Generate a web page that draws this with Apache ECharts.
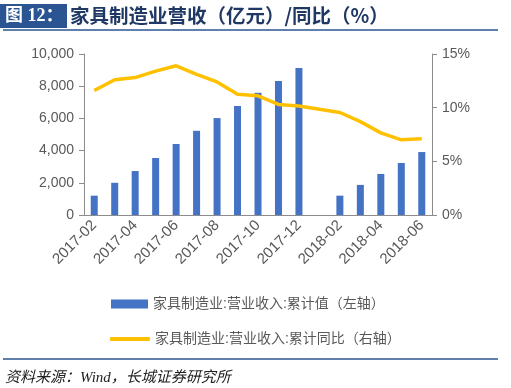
<!DOCTYPE html>
<html><head><meta charset="utf-8">
<script src="https://cdn.jsdelivr.net/npm/echarts@6/dist/echarts.min.js"></script>
<style>html,body{margin:0;padding:0;background:#fff}#c{width:511px;height:388px}</style>
</head><body><div id="c"></div>
<script>
const categories = ['2017-02','2017-03','2017-04','2017-05','2017-06','2017-07','2017-08','2017-09','2017-10','2017-11','2017-12','2018-01','2018-02','2018-03','2018-04','2018-05','2018-06'];
const revenue = [1200,2000,2730,3540,4410,5230,6020,6770,7590,8320,9130,null,1200,1870,2550,3230,3910];
const yoy = [11.6,12.6,12.8,13.4,13.9,13.1,12.4,11.25,11.1,10.3,10.15,null,9.55,8.7,7.65,7.0,7.1];
const leftTicks = [0,2000,4000,6000,8000,10000];
const rightTicks = [0,5,10,15];
const barName = '家具制造业:营业收入:累计值（左轴）';
const lineName = '家具制造业:营业收入:累计同比（右轴）';
const titleText = '家具制造业营收（亿元）/同比（%）';
const figLabel = '图 12：';
const sourceText = '资料来源：Wind，长城证券研究所';

const chart = echarts.init(document.getElementById('c'), null, {renderer:'canvas'});
const axisColor = '#8c8c8c';
const labelColor = '#595959';
const font = 'Arial, "Liberation Sans", "Noto Sans CJK SC", sans-serif';
chart.setOption({
  animation:false,
  textStyle:{fontFamily:font},
  grid:{left:84,right:79,top:54,bottom:173,containLabel:false},
  legend:[
    {data:[{name:barName,icon:'rect'}],left:106,top:292,itemWidth:37,itemHeight:9,itemGap:5,
     textStyle:{color:labelColor,fontSize:14,fontFamily:font}},
    {data:[{name:lineName,icon:'roundRect'}],left:105,top:327,itemWidth:40,itemHeight:4,
     textStyle:{color:labelColor,fontSize:14,fontFamily:font}}
  ],
  xAxis:{type:'category',data:categories,boundaryGap:true,
    axisLine:{lineStyle:{color:axisColor}},
    axisTick:{interval:1,length:5,lineStyle:{color:axisColor}},
    axisLabel:{interval:1,rotate:45,color:labelColor,fontSize:15,margin:8}},
  yAxis:[
    {type:'value',min:0,max:10000,interval:2000,position:'left',
     axisLine:{show:true,lineStyle:{color:axisColor}},
     axisTick:{show:true,length:5,lineStyle:{color:axisColor}},
     splitLine:{show:false},
     axisLabel:{color:labelColor,fontSize:14,margin:10,formatter:v=>v.toLocaleString('en-US')}},
    {type:'value',min:0,max:15,interval:5,position:'right',
     axisLine:{show:true,lineStyle:{color:axisColor}},
     axisTick:{show:true,length:5,lineStyle:{color:axisColor}},
     splitLine:{show:false},
     axisLabel:{color:labelColor,fontSize:14,margin:10,formatter:v=>v+'%'}}
  ],
  series:[
    {name:barName,type:'bar',data:revenue,barWidth:7,itemStyle:{color:'#4472C4'},yAxisIndex:0},
    {name:lineName,type:'line',data:yoy,yAxisIndex:1,connectNulls:true,symbol:'none',
     lineStyle:{color:'#FFC000',width:3.5},itemStyle:{color:'#FFC000'}}
  ],
  graphic:[
    {type:'rect',shape:{x:0,y:4,width:67,height:24},style:{fill:'#2B5592'}},
    {type:'text',x:5,y:16,style:{text:figLabel,fill:'#fff',font:'bold 18px "Liberation Serif","Noto Sans CJK SC",serif',verticalAlign:'middle'}},
    {type:'text',x:70,y:16,style:{text:titleText,fill:'#1F3864',font:'bold 19.5px "Noto Sans CJK SC",sans-serif',verticalAlign:'middle'}},
    {type:'line',shape:{x1:3,y1:30,x2:498,y2:30},style:{stroke:'#2B5592',lineWidth:1.5}},
    {type:'line',shape:{x1:3,y1:359,x2:498,y2:359},style:{stroke:'#2B5592',lineWidth:1.5}},
    {type:'text',x:5,y:378,style:{text:sourceText,fill:'#222',font:'italic 15px "Liberation Serif","Noto Sans CJK SC",serif',verticalAlign:'middle'}}
  ]
});
</script></body></html>
